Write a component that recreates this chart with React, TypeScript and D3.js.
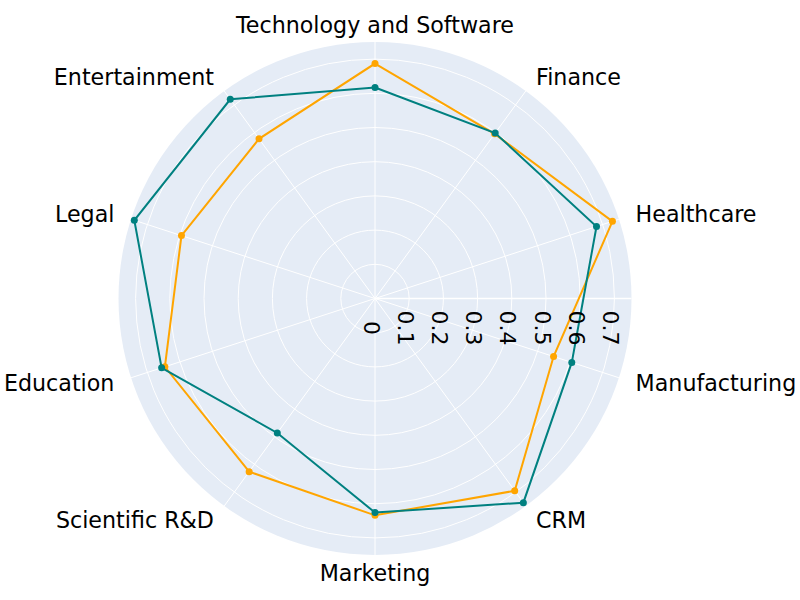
import { useEffect, useRef } from 'react';
import * as d3 from 'd3';

const categories = [
  'Technology and Software',
  'Finance',
  'Healthcare',
  'Manufacturing',
  'CRM',
  'Marketing',
  'Scientific R&D',
  'Education',
  'Legal',
  'Entertainment',
];

const orangeValues = [0.687, 0.595, 0.73, 0.549, 0.695, 0.634, 0.626, 0.646, 0.595, 0.577];
const tealValues = [0.617, 0.598, 0.681, 0.605, 0.738, 0.626, 0.486, 0.656, 0.74, 0.72];

const radialTicks = [0, 0.1, 0.2, 0.3, 0.4, 0.5, 0.6, 0.7];

const series = [
  { name: 'orange', color: '#FFA500', values: orangeValues },
  { name: 'teal', color: '#008080', values: tealValues },
];

export default function App() {
  const svgRef = useRef<SVGSVGElement>(null);

  useEffect(() => {
    if (!svgRef.current) return;
    const width = 800;
    const height = 600;
    const cx = 375;
    const cy = 298.5;
    const outer = 256.5;

    const svg = d3.select(svgRef.current);
    svg.selectAll('*').remove();
    svg.attr('width', width).attr('height', height)
      .style('font-family', 'DejaVu Sans, sans-serif');

    const r = d3.scaleLinear().domain([0, 0.75]).range([0, outer]);
    const angle = d3.scaleLinear().domain([0, categories.length]).range([0, 2 * Math.PI]);

    const g = svg.append('g').attr('transform', `translate(${cx},${cy})`);

    // background disc
    g.append('circle').attr('r', outer).attr('fill', '#E5ECF6');

    // rings
    g.selectAll('circle.ring')
      .data(radialTicks.filter(t => t > 0))
      .join('circle')
      .attr('class', 'ring')
      .attr('r', d => r(d))
      .attr('fill', 'none')
      .attr('stroke', 'white')
      .attr('stroke-width', 1);

    // spokes
    g.selectAll('line.spoke')
      .data(categories)
      .join('line')
      .attr('class', 'spoke')
      .attr('x1', 0).attr('y1', 0)
      .attr('x2', (_, i) => outer * Math.sin(angle(i)))
      .attr('y2', (_, i) => -outer * Math.cos(angle(i)))
      .attr('stroke', 'white')
      .attr('stroke-width', 1);

    // radial axis line
    g.append('line')
      .attr('x1', 0).attr('y1', 0)
      .attr('x2', outer).attr('y2', 0)
      .attr('stroke', 'white')
      .attr('stroke-width', 1.6);

    // series
    const line = d3.lineRadial<number>()
      .angle((_, i) => angle(i))
      .radius(d => r(d))
      .curve(d3.curveLinearClosed);

    series.forEach(s => {
      g.append('path')
        .attr('d', line(s.values))
        .attr('fill', 'none')
        .attr('stroke', s.color)
        .attr('stroke-width', 2);
      g.selectAll(`circle.pt-${s.name}`)
        .data(s.values)
        .join('circle')
        .attr('class', `pt-${s.name}`)
        .attr('cx', (d, i) => r(d) * Math.sin(angle(i)))
        .attr('cy', (d, i) => -r(d) * Math.cos(angle(i)))
        .attr('r', 3.5)
        .attr('fill', s.color);
    });

    // radial tick labels
    g.selectAll('text.rtick')
      .data(radialTicks)
      .join('text')
      .attr('class', 'rtick')
      .attr('transform', d => `translate(${r(d) - 4},${29.5}) rotate(90)`)
      .attr('text-anchor', 'middle')
      .attr('dominant-baseline', 'central')
      .attr('font-size', 22)
      .attr('fill', 'black')
      .text(d => (d === 0 ? '0' : String(d)));

    // category labels
    const labelR = 274;
    g.selectAll('text.cat')
      .data(categories)
      .join('text')
      .attr('class', 'cat')
      .attr('x', (_, i) => labelR * Math.sin(angle(i)))
      .attr('y', (_, i) => -labelR * Math.cos(angle(i)))
      .attr('text-anchor', (_, i) => {
        const s = Math.sin(angle(i));
        return s > 0.1 ? 'start' : s < -0.1 ? 'end' : 'middle';
      })
      .attr('dominant-baseline', 'central')
      .attr('font-size', 22.2)
      .attr('fill', 'black')
      .text(d => d);
  }, []);

  return <svg ref={svgRef} style={{ position: 'absolute', left: 0, top: 0 }} />;
}
